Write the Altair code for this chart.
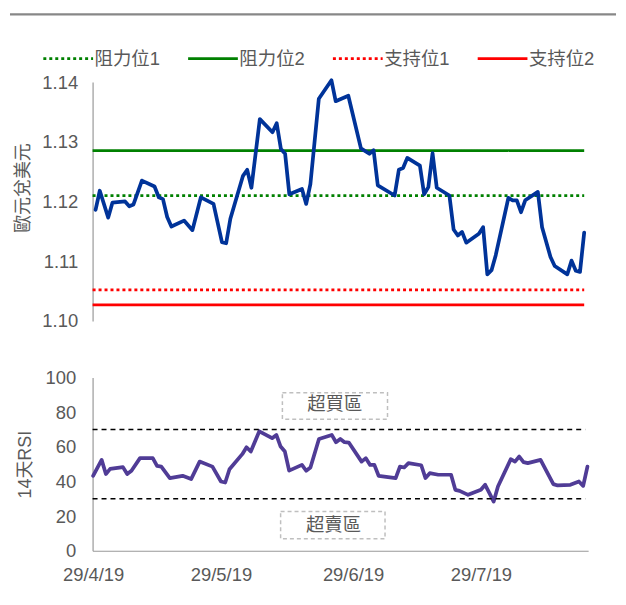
import altair as alt
import pandas as pd

FONT = "Liberation Sans, Arial, Noto Sans CJK TC, sans-serif"
TXT = "#595959"

# ---- price (EUR/USD) ----
price_dates = [
    "2019-04-29", "2019-04-30", "2019-05-02", "2019-05-03", "2019-05-06", "2019-05-07",
    "2019-05-08", "2019-05-10", "2019-05-13", "2019-05-14", "2019-05-15", "2019-05-16",
    "2019-05-17", "2019-05-20", "2019-05-22", "2019-05-24", "2019-05-27", "2019-05-29",
    "2019-05-30", "2019-05-31", "2019-06-03", "2019-06-04", "2019-06-05", "2019-06-07",
    "2019-06-10", "2019-06-11", "2019-06-12", "2019-06-13", "2019-06-14", "2019-06-17",
    "2019-06-18", "2019-06-19", "2019-06-21", "2019-06-24", "2019-06-25", "2019-06-28",
    "2019-07-01", "2019-07-03", "2019-07-04", "2019-07-05", "2019-07-09", "2019-07-10",
    "2019-07-11", "2019-07-12", "2019-07-15", "2019-07-16", "2019-07-17", "2019-07-18",
    "2019-07-19", "2019-07-22", "2019-07-23", "2019-07-24", "2019-07-25", "2019-07-26",
    "2019-07-29", "2019-07-30", "2019-07-31", "2019-08-01", "2019-08-02", "2019-08-05",
    "2019-08-06", "2019-08-07", "2019-08-08", "2019-08-09", "2019-08-12", "2019-08-13",
    "2019-08-15", "2019-08-16", "2019-08-19", "2019-08-20", "2019-08-21", "2019-08-22",
    "2019-08-23",
]
price_values = [
    1.1186, 1.1218, 1.1173, 1.1198, 1.1200, 1.1192, 1.1195, 1.1235, 1.1225, 1.1207,
    1.1204, 1.1174, 1.1158, 1.1168, 1.1152, 1.1207, 1.1196, 1.1132, 1.1130, 1.1171,
    1.1243, 1.1253, 1.1223, 1.1338, 1.1316, 1.1331, 1.1288, 1.1280, 1.1212, 1.1221,
    1.1196, 1.1229, 1.1372, 1.1403, 1.1368, 1.1377, 1.1289, 1.1280, 1.1286, 1.1227,
    1.1210, 1.1253, 1.1256, 1.1273, 1.1260, 1.1212, 1.1224, 1.1281, 1.1223, 1.1210,
    1.1153, 1.1143, 1.1149, 1.1131, 1.1146, 1.1157, 1.1078, 1.1085, 1.1110, 1.1206,
    1.1202, 1.1202, 1.1182, 1.1202, 1.1216, 1.1157, 1.1107, 1.1092, 1.1078, 1.1101,
    1.1084, 1.1082, 1.1148,
]

# ---- 14-day RSI ----
rsi_dates = [
    "2019-04-29", "2019-05-01", "2019-05-02", "2019-05-03", "2019-05-06", "2019-05-07",
    "2019-05-08", "2019-05-10", "2019-05-13", "2019-05-14", "2019-05-15", "2019-05-17",
    "2019-05-20", "2019-05-22", "2019-05-24", "2019-05-27", "2019-05-29", "2019-05-30",
    "2019-05-31", "2019-06-03", "2019-06-04", "2019-06-05", "2019-06-07", "2019-06-10",
    "2019-06-11", "2019-06-12", "2019-06-13", "2019-06-14", "2019-06-17", "2019-06-18",
    "2019-06-19", "2019-06-21", "2019-06-24", "2019-06-25", "2019-06-26", "2019-06-27",
    "2019-06-28", "2019-07-01", "2019-07-02", "2019-07-03", "2019-07-04", "2019-07-05",
    "2019-07-09", "2019-07-10", "2019-07-11", "2019-07-12", "2019-07-15", "2019-07-16",
    "2019-07-17", "2019-07-19", "2019-07-22", "2019-07-23", "2019-07-24", "2019-07-26",
    "2019-07-29", "2019-07-30", "2019-07-31", "2019-08-01", "2019-08-02", "2019-08-05",
    "2019-08-06", "2019-08-07", "2019-08-08", "2019-08-09", "2019-08-12", "2019-08-15",
    "2019-08-16", "2019-08-19", "2019-08-21", "2019-08-22", "2019-08-23",
]
rsi_values = [
    43.3, 52.5, 44.3, 47.3, 48.3, 44.3, 46.2, 53.5, 53.5, 49.0,
    48.6, 42.0, 43.3, 41.4, 51.5, 48.6, 40.0, 39.4, 47.1, 55.8,
    59.8, 57.3, 69.0, 65.0, 66.9, 60.2, 57.3, 46.3, 49.6, 46.2,
    48.1, 64.6, 66.9, 62.7, 64.6, 62.7, 62.5, 51.5, 53.5, 49.6,
    49.6, 43.3, 41.9, 48.6, 48.1, 50.6, 49.4, 42.0, 44.8, 43.9,
    43.9, 35.2, 34.6, 32.3, 35.2, 38.1, 33.3, 28.4, 37.1, 52.9,
    51.5, 54.4, 51.2, 50.6, 52.5, 38.5, 37.7, 38.1, 40.0, 37.5,
    48.6,
]

# ---- support / resistance levels ----
level_names = ["阻力位1", "阻力位2", "支持位1", "支持位2"]
level_values = [1.1210, 1.1285, 1.1052, 1.1027]
level_colors = ["#008000", "#008000", "#ff0000", "#ff0000"]
level_dashes = [[3, 3], [1, 0], [3, 3], [1, 0]]

# ---- RSI bands & zone labels ----
rsi_levels = [70, 30]
zone_labels = ["超買區", "超賣區"]
zone_text_dates = ["2019-06-24T17:00:00", "2019-06-24T10:00:00"]
zone_text_values = [84.5, 14.7]
zone_box_start = ["2019-06-12T10:00:00", "2019-06-12T00:00:00"]
zone_box_end = ["2019-07-07T02:00:00", "2019-07-06T12:00:00"]
zone_box_top = [91.3, 22.7]
zone_box_bottom = [76.0, 6.9]

# ---- axes ----
top_x_domain = ["2019-04-28T07:00:00", "2019-08-23T22:30:00"]
bottom_x_domain = ["2019-04-28T21:00:00", "2019-08-23T04:00:00"]
line_end = "2019-08-23T00:00:00"
band_end = "2019-08-22T12:00:00"
x_tick_dates = ["2019-04-29", "2019-05-29", "2019-06-29", "2019-07-29"]
price_ticks = [1.10, 1.11, 1.12, 1.13, 1.14]
rsi_ticks = [0, 20, 40, 60, 80, 100]


def dt(s):
    t = pd.Timestamp(s)
    return alt.DateTime(year=t.year, month=t.month, date=t.day, hours=t.hour, minutes=t.minute)


def iso(s):
    return pd.Timestamp(s).strftime("%Y-%m-%dT%H:%M:%S")


W = 498
H_TOP = 240
H_BOT = 174

top_scale = alt.Scale(domain=[dt(d) for d in top_x_domain])
bot_scale = alt.Scale(domain=[dt(d) for d in bottom_x_domain])

price_df = pd.DataFrame({"date": [iso(d) for d in price_dates], "value": price_values})
levels_df = pd.DataFrame({
    "name": level_names,
    "value": level_values,
    "start": [iso(top_x_domain[0])] * len(level_names),
    "end": [iso(line_end)] * len(level_names),
})

leg = alt.Legend(
    orient="none", legendX=-51, legendY=-50, direction="horizontal", title=None,
    labelFontSize=18.5, labelColor=TXT, labelFont=FONT,
    symbolType="stroke", symbolSize=2500, symbolStrokeWidth=2.75,
    labelOffset=0, columnPadding=22.5, padding=0,
)

top_y_axis = alt.Axis(
    values=price_ticks, format=".2f", grid=False, ticks=False, tickSize=0,
    labelFontSize=18.5, labelColor=TXT, labelFont=FONT, labelPadding=15,
    domainColor="#999999", domainWidth=1.2,
    title="歐元兌美元", titleFontSize=18, titleFontWeight="normal", titleColor=TXT,
    titleFont=FONT, titleX=-69.5, titleY=106, titleBaseline="middle", titleAngle=270,
)
top_y_scale = alt.Scale(domain=[1.10, 1.14], nice=False, zero=False)

border = alt.Chart(pd.DataFrame({"k": [0]})).mark_rule(
    color="#878787", strokeWidth=2.4
).encode(x=alt.value(-83), x2=alt.value(526), y=alt.value(-68))

levels = alt.Chart(levels_df).mark_rule(strokeWidth=2.75).encode(
    x=alt.X("start:T", scale=top_scale, axis=None),
    x2="end:T",
    y=alt.Y("value:Q", scale=top_y_scale, axis=top_y_axis),
    color=alt.Color("name:N", scale=alt.Scale(domain=level_names, range=level_colors), legend=leg),
    strokeDash=alt.StrokeDash("name:N", scale=alt.Scale(domain=level_names, range=level_dashes), legend=leg),
)

price = alt.Chart(price_df).mark_line(
    color="#003399", strokeWidth=3.75, strokeJoin="round", strokeCap="round"
).encode(
    x=alt.X("date:T", scale=top_scale, axis=None),
    y=alt.Y("value:Q", scale=top_y_scale, axis=top_y_axis),
)

top = alt.layer(border, levels, price).properties(width=W, height=H_TOP)

# ---- bottom panel ----
rsi_df = pd.DataFrame({"date": [iso(d) for d in rsi_dates], "value": rsi_values})
bands_df = pd.DataFrame({
    "date": [iso(bottom_x_domain[0])] * len(rsi_levels),
    "end": [iso(band_end)] * len(rsi_levels),
    "value": rsi_levels,
})
boxes_df = pd.DataFrame({
    "date": zone_box_start, "end": zone_box_end, "value": zone_box_top, "value2": zone_box_bottom,
})
zone_text_df = pd.DataFrame({"date": zone_text_dates, "value": zone_text_values, "label": zone_labels})

x_axis_bot = alt.Axis(
    values=[dt(d) for d in x_tick_dates], format="%-d/%-m/%y", grid=False, ticks=False,
    tickSize=0, labelFontSize=18.5, labelColor=TXT, labelFont=FONT, labelPadding=15,
    domainColor="#999999", domainWidth=1.2, title=None, labelFlush=False,
)
y_axis_bot = alt.Axis(
    values=rsi_ticks, grid=False, ticks=False, tickSize=0,
    labelFontSize=18.5, labelColor=TXT, labelFont=FONT, labelPadding=17,
    domainColor="#999999", domainWidth=1.2,
    title="14天RSI", titleFontSize=18, titleFontWeight="normal", titleColor=TXT,
    titleFont=FONT, titleX=-67.7, titleBaseline="middle", titleAngle=270,
)
y_scale_bot = alt.Scale(domain=[0, 100], nice=False)

xb = alt.X("date:T", scale=bot_scale, axis=x_axis_bot)
yb = alt.Y("value:Q", scale=y_scale_bot, axis=y_axis_bot)

rsi = alt.Chart(rsi_df).mark_line(
    color="#503c96", strokeWidth=3.75, strokeJoin="round", strokeCap="round"
).encode(x=xb, y=yb)
bands = alt.Chart(bands_df).mark_rule(color="black", strokeWidth=1.5, strokeDash=[5, 4]).encode(
    x=xb, x2="end:T", y=yb
)
boxes = alt.Chart(boxes_df).mark_rect(
    fillOpacity=0, stroke="#bfbfbf", strokeWidth=1.5, strokeDash=[4, 3]
).encode(x=xb, x2="end:T", y=yb, y2="value2:Q")
zone_text = alt.Chart(zone_text_df).mark_text(fontSize=18.5, color=TXT, font=FONT).encode(
    x=xb, y=yb, text="label:N",
)

bottom = alt.layer(rsi, bands, boxes, zone_text).properties(width=W, height=H_BOT)

chart = alt.vconcat(top, bottom, spacing=38).properties(
    padding={"left": 0, "top": 3, "right": 0, "bottom": 5}
).configure(font=FONT, view=alt.ViewConfig(stroke=None))

chart.save("out.html", embed_options={"renderer": "svg", "actions": False})
